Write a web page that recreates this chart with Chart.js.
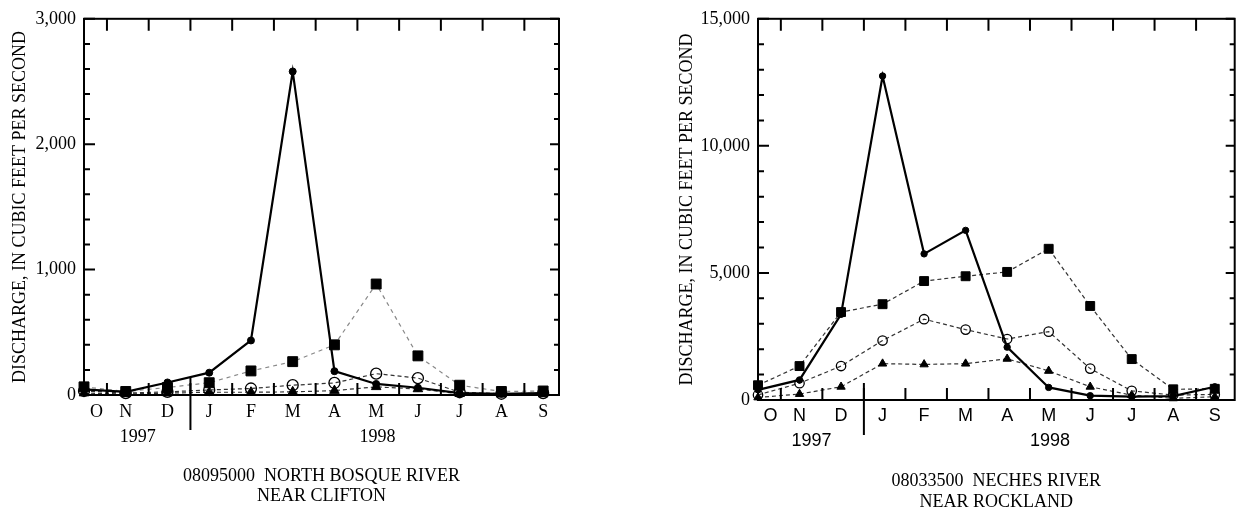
<!DOCTYPE html>
<html>
<head>
<meta charset="utf-8">
<script src="https://cdn.jsdelivr.net/npm/chart.js@4.4.0/dist/chart.umd.min.js"></script>
<style>
  html, body { margin: 0; padding: 0; background: #fff; }
  #wrap { position: relative; width: 1242px; height: 511px; }
  canvas { position: absolute; left: 0; top: 0; }
</style>
</head>
<body>
<div id="wrap">
  <canvas id="bosque" width="1242" height="511" style="width:1242px;height:511px"></canvas>
  <canvas id="neches" width="1242" height="511" style="width:1242px;height:511px"></canvas>
</div>
<script>
// water year oct 1997 - sep 1998
const months = ['O', 'N', 'D', 'J', 'F', 'M', 'A', 'M', 'J', 'J', 'A', 'S'];
const years = ['1997', '1998'];
const yAxisTitle = 'DISCHARGE, IN CUBIC FEET PER SECOND';

// 08095000 north bosque river near clifton
const bosqueTitle = ['08095000  NORTH BOSQUE RIVER', 'NEAR CLIFTON'];
const bosque1998 = [45, 25, 100, 178, 435, 2580, 190, 88, 58, 15, 10, 15];
const bosqueHigh = [65, 28, 60, 98, 192, 266, 400, 885, 312, 78, 28, 32];
const bosqueMean = [32, 15, 25, 40, 52, 78, 96, 170, 135, 22, 10, 15];
const bosqueLow = [15, 8, 15, 22, 22, 25, 35, 65, 48, 10, 5, 8];

// 08033500 neches river near rockland
const nechesTitle = ['08033500  NECHES RIVER', 'NEAR ROCKLAND'];
const neches1998 = [400, 790, 3370, 12750, 5750, 6675, 2080, 495, 170, 130, 155, 520];
const nechesHigh = [580, 1335, 3460, 3770, 4680, 4870, 5040, 5950, 3700, 1610, 420, 440];
const nechesMean = [200, 660, 1335, 2340, 3180, 2770, 2400, 2690, 1235, 360, 195, 220];
const nechesLow = [100, 235, 520, 1430, 1400, 1430, 1620, 1145, 520, 190, 65, 130];

const toXY = arr => arr.map((v, i) => ({ x: i, y: v }));

// inside ticks, frame, year divider, year labels, station name
const framePlugin = {
  id: 'frame',
  afterDraw(chart, args, o) {
    const { ctx, chartArea: a, scales: { x, y } } = chart;
    ctx.save();
    ctx.strokeStyle = '#000';
    ctx.lineWidth = 2;
    ctx.strokeRect(a.left, a.top, a.right - a.left, a.bottom - a.top);
    ctx.beginPath();
    for (let i = 0; i < months.length - 1; i++) {
      const px = x.getPixelForValue(i + 0.55);
      ctx.moveTo(px, a.bottom); ctx.lineTo(px, a.bottom - 12);
      ctx.moveTo(px, a.top); ctx.lineTo(px, a.top + 12);
    }
    for (let v = 0; v <= o.yMax; v += o.minorStep) {
      const py = y.getPixelForValue(v);
      const major = v % o.majorStep === 0;
      ctx.moveTo(a.left, py); ctx.lineTo(a.left + (major ? 11 : 6), py);
      ctx.moveTo(a.right, py); ctx.lineTo(a.right - (major ? 9 : 5), py);
    }
    ctx.stroke();
    const dx = x.getPixelForValue(2.55);
    ctx.beginPath();
    ctx.moveTo(dx, a.bottom - 17);
    ctx.lineTo(dx, a.bottom + 35);
    ctx.stroke();

    ctx.fillStyle = '#000';
    ctx.textAlign = 'center';
    ctx.textBaseline = 'middle';
    ctx.font = o.yearFont;
    ctx.fillText(years[0], x.getPixelForValue(1.29), o.yearY);
    ctx.fillText(years[1], x.getPixelForValue(7.03), o.yearY);
    ctx.font = '18px "Liberation Serif"';
    const cx = (a.left + a.right) / 2;
    o.title.forEach((t, i) => ctx.fillText(t, cx, o.titleY + i * o.titleGap));
    ctx.restore();
  }
};

function series(data, opts) {
  return Object.assign({
    data: toXY(data),
    borderColor: '#333',
    borderWidth: 1.2,
    borderDash: [4, 3],
    pointBorderColor: '#000',
    pointBackgroundColor: '#000',
    pointBorderWidth: 1,
    tension: 0,
    clip: false
  }, opts);
}

function makeChart(id, cfg) {
  const serif = '"Liberation Serif"';
  return new Chart(document.getElementById(id), {
    type: 'line',
    data: {
      datasets: [
        series(cfg.wy, { label: 'Water year 1998', borderColor: '#000', borderWidth: 2.2, borderDash: [], pointStyle: 'circle', pointRadius: cfg.dot }),
        series(cfg.high, { label: 'Maximum', borderColor: cfg.highColor, borderDash: cfg.highDash, pointStyle: 'rect', pointRadius: cfg.sq }),
        series(cfg.mean, { label: 'Mean', pointStyle: 'circle', pointRadius: cfg.ring, pointBackgroundColor: 'rgba(0,0,0,0)', pointBorderWidth: 1.3 }),
        series(cfg.low, { label: 'Minimum', pointStyle: 'triangle', pointRadius: cfg.tri })
      ]
    },
    options: {
      responsive: false,
      animation: false,
      events: [],
      layout: { padding: cfg.padding },
      plugins: {
        legend: { display: false },
        tooltip: { enabled: false },
        frame: cfg.frame
      },
      scales: {
        x: {
          type: 'linear',
          min: 0,
          max: cfg.xMax,
          grid: { display: false, drawTicks: false },
          border: { display: false },
          afterBuildTicks: s => { s.ticks = months.map((m, i) => ({ value: i === 0 ? 0.3 : i })); },
          afterFit: s => { s.height = cfg.xHeight; },
          ticks: {
            autoSkip: false,
            maxRotation: 0,
            padding: cfg.monthPad,
            color: '#000',
            font: { family: cfg.monthFamily, size: 18 },
            callback: v => months[Math.round(v)]
          }
        },
        y: {
          min: 0,
          max: cfg.yMax,
          grid: { display: false, drawTicks: false },
          border: { display: false },
          afterFit: s => { s.width = cfg.yWidth; },
          ticks: {
            stepSize: cfg.majorStep,
            padding: 8,
            color: '#000',
            font: { family: serif, size: 18 },
            callback: v => v.toLocaleString('en-US')
          },
          title: {
            display: true,
            text: yAxisTitle,
            color: '#000',
            font: { family: serif, size: 18 },
            padding: { top: 9, bottom: 0 }
          }
        }
      }
    },
    plugins: [framePlugin]
  });
}

makeChart('bosque', {
  wy: bosque1998, high: bosqueHigh, mean: bosqueMean, low: bosqueLow,
  highColor: '#888', highDash: [4, 4],
  dot: 3.5, sq: 7, ring: 5.5, tri: 5.5,
  padding: { left: 0, top: 11, right: 683, bottom: 0 },
  yWidth: 84, xHeight: 116, xMax: 11.38, yMax: 3000, majorStep: 1000,
  monthPad: 6, monthFamily: '"Liberation Serif"',
  frame: { yMax: 3000, majorStep: 1000, minorStep: 200, yearFont: '18px "Liberation Serif"', yearY: 437, title: bosqueTitle, titleY: 476, titleGap: 20 }
});

makeChart('neches', {
  wy: neches1998, high: nechesHigh, mean: nechesMean, low: nechesLow,
  highColor: '#333', highDash: [4, 3],
  dot: 3.2, sq: 6.3, ring: 4.7, tri: 4.8,
  padding: { left: 667, top: 15, right: 4, bottom: 0 },
  yWidth: 91, xHeight: 111, xMax: 11.48, yMax: 15000, majorStep: 5000,
  monthPad: 5, monthFamily: '"Liberation Sans"',
  frame: { yMax: 15000, majorStep: 5000, minorStep: 1000, yearFont: '18px "Liberation Sans"', yearY: 441, title: nechesTitle, titleY: 481, titleGap: 21 }
});
</script>
</body>
</html>
